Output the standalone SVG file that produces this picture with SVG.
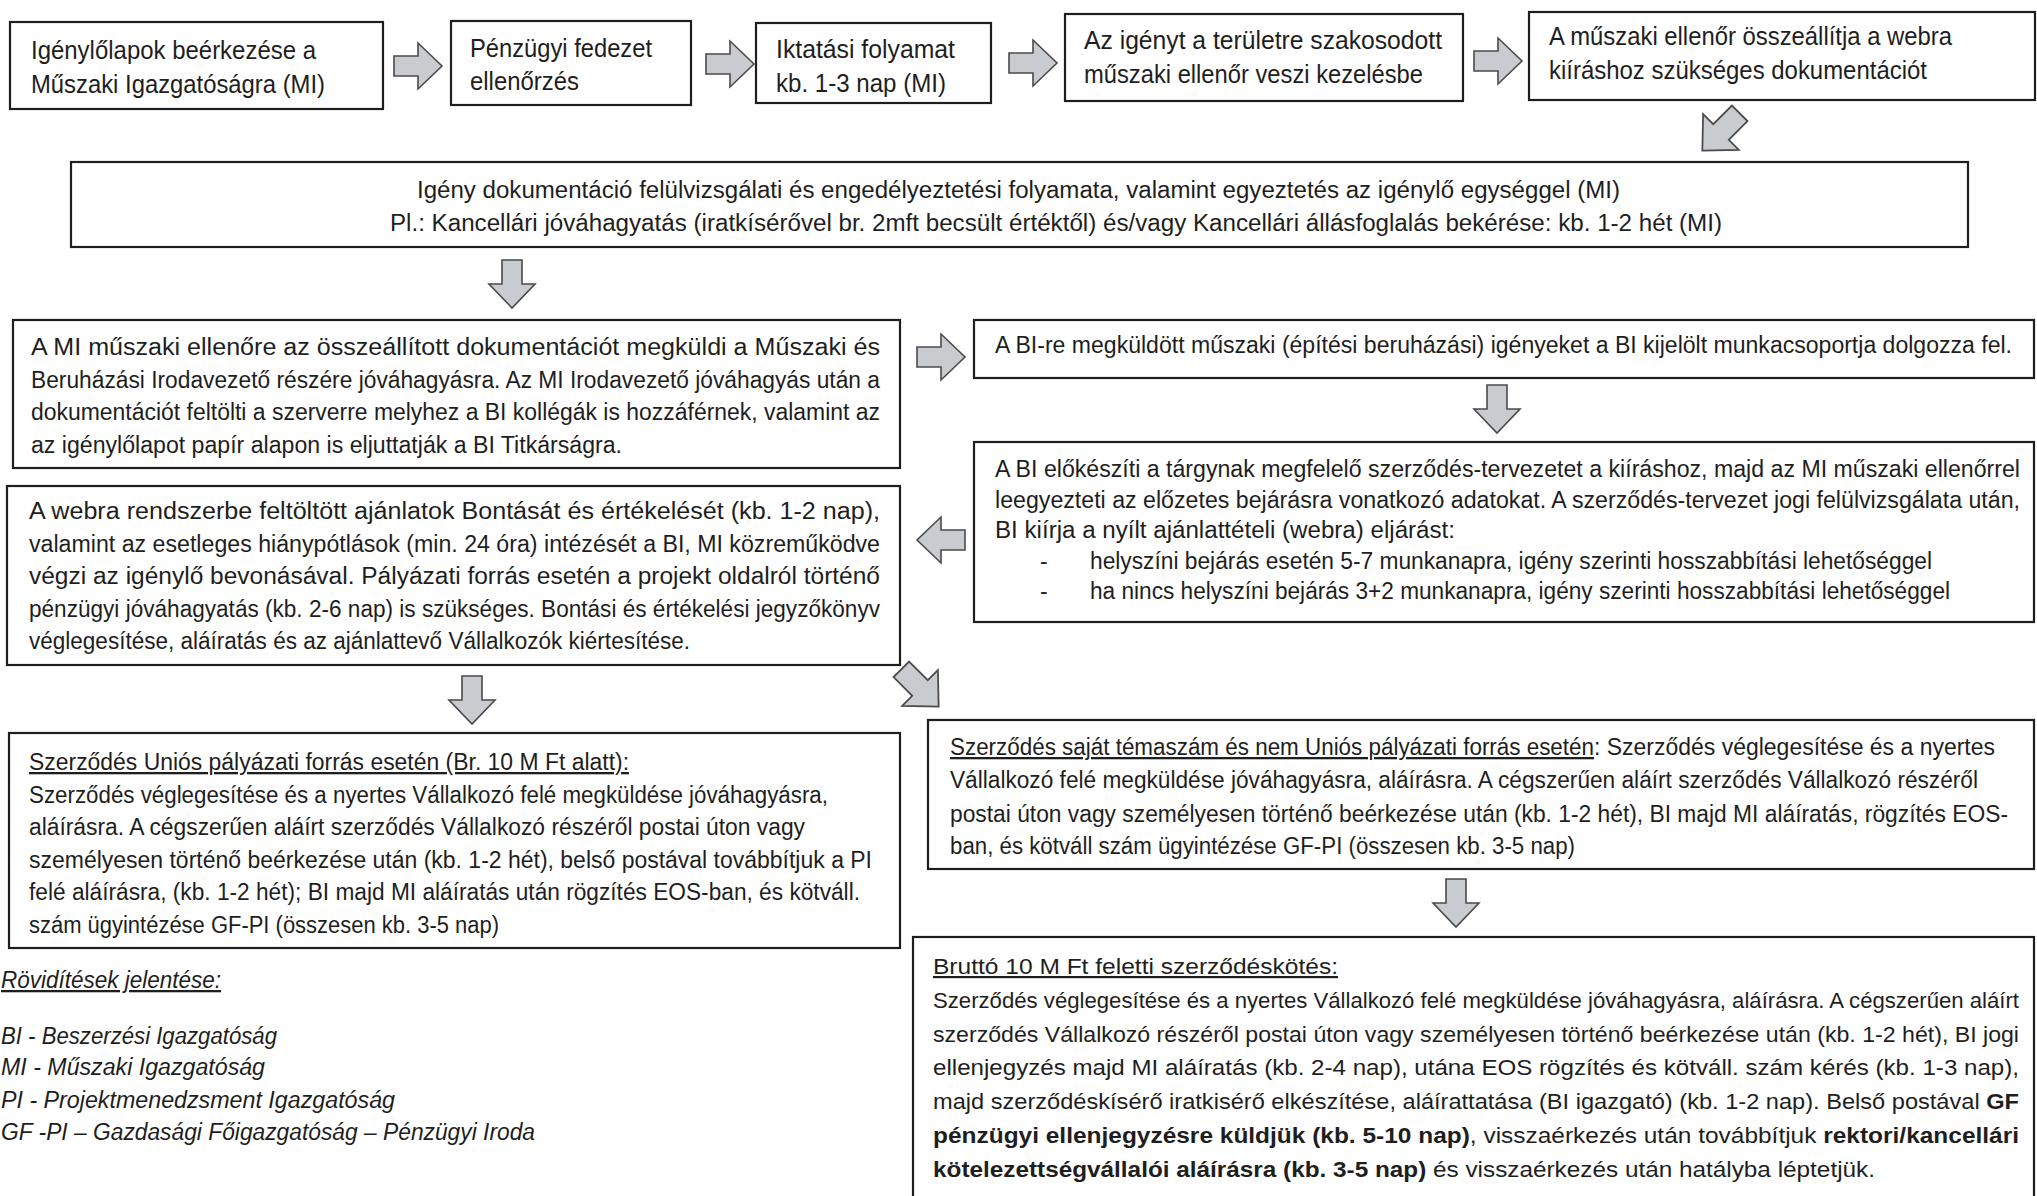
<svg xmlns="http://www.w3.org/2000/svg" width="2037" height="1196" viewBox="0 0 2037 1196">
<style>
.box{fill:#fff;stroke:#1e1e1e;stroke-width:2.2}
.t{font-family:"Liberation Sans Narrow","Liberation Sans",sans-serif;font-size:23px;fill:#1e1e1e}
.t1{font-size:25px}
.s{font-size:22px}
.b{font-weight:bold}
.u{text-decoration:underline}
.i{font-style:italic}
.arrow{fill:#c8ccd1;stroke:#4a4a4a;stroke-width:1.6;stroke-linejoin:miter}
</style>
<defs>
<path id="arr" class="arrow" d="M-24,-10 H0 V-23 L24,0 L0,23 V10 H-24 Z"/>
</defs>
<rect width="2037" height="1196" fill="#fff"/>

<g id="connectors">
<use href="#arr" transform="translate(418,66)"/>
<use href="#arr" transform="translate(730,64)"/>
<use href="#arr" transform="translate(1033,63)"/>
<use href="#arr" transform="translate(1498,61)"/>
<use href="#arr" transform="translate(1721,132) rotate(135) scale(1.1)"/>
<use href="#arr" transform="translate(512,284) rotate(90)"/>
<use href="#arr" transform="translate(941,357)"/>
<use href="#arr" transform="translate(1497,409) rotate(90)"/>
<use href="#arr" transform="translate(941,540) rotate(180)"/>
<use href="#arr" transform="translate(472,700) rotate(90)"/>
<use href="#arr" transform="translate(920,688) rotate(45) scale(1.1)"/>
<use href="#arr" transform="translate(1456,903) rotate(90)"/>
</g>

<g id="n1">
<rect class="box" x="10" y="22" width="373" height="87"/>
<text class="t t1" x="31" y="59" textLength="285" lengthAdjust="spacingAndGlyphs">Igénylőlapok beérkezése a</text>
<text class="t t1" x="31" y="93" textLength="294" lengthAdjust="spacingAndGlyphs">Műszaki Igazgatóságra (MI)</text>
</g>

<g id="n2">
<rect class="box" x="451" y="21" width="240" height="84"/>
<text class="t t1" x="470" y="57" textLength="182" lengthAdjust="spacingAndGlyphs">Pénzügyi fedezet</text>
<text class="t t1" x="470" y="90" textLength="109" lengthAdjust="spacingAndGlyphs">ellenőrzés</text>
</g>

<g id="n3">
<rect class="box" x="756" y="23" width="235" height="80"/>
<text class="t t1" x="776" y="58" textLength="179" lengthAdjust="spacingAndGlyphs">Iktatási folyamat</text>
<text class="t t1" x="776" y="92" textLength="170" lengthAdjust="spacingAndGlyphs">kb. 1-3 nap (MI)</text>
</g>

<g id="n4">
<rect class="box" x="1065" y="14" width="398" height="87"/>
<text class="t t1" x="1084" y="49" textLength="358" lengthAdjust="spacingAndGlyphs">Az igényt a területre szakosodott</text>
<text class="t t1" x="1084" y="83" textLength="339" lengthAdjust="spacingAndGlyphs">műszaki ellenőr veszi kezelésbe</text>
</g>

<g id="n5">
<rect class="box" x="1529" y="12" width="506" height="88"/>
<text class="t t1" x="1549" y="45" textLength="403" lengthAdjust="spacingAndGlyphs">A műszaki ellenőr összeállítja a webra</text>
<text class="t t1" x="1549" y="79" textLength="378" lengthAdjust="spacingAndGlyphs">kiíráshoz szükséges dokumentációt</text>
</g>

<g id="n6">
<rect class="box" x="71" y="162" width="1897" height="85"/>
<text class="t" x="417" y="198" textLength="1203" lengthAdjust="spacingAndGlyphs">Igény dokumentáció felülvizsgálati és engedélyeztetési folyamata, valamint egyeztetés az igénylő egységgel (MI)</text>
<text class="t" x="390" y="231" textLength="1332" lengthAdjust="spacingAndGlyphs">Pl.: Kancellári jóváhagyatás (iratkísérővel br. 2mft becsült értéktől) és/vagy Kancellári állásfoglalás bekérése: kb. 1-2 hét (MI)</text>
</g>

<g id="n7">
<rect class="box" x="13" y="320" width="887" height="148"/>
<text class="t" x="31" y="355" textLength="849" lengthAdjust="spacingAndGlyphs">A MI műszaki ellenőre az összeállított dokumentációt megküldi a Műszaki és</text>
<text class="t" x="31" y="388" textLength="849" lengthAdjust="spacingAndGlyphs">Beruházási Irodavezető részére jóváhagyásra. Az MI Irodavezető jóváhagyás után a</text>
<text class="t" x="31" y="420" textLength="849" lengthAdjust="spacingAndGlyphs">dokumentációt feltölti a szerverre melyhez a BI kollégák is hozzáférnek, valamint az</text>
<text class="t" x="31" y="453" textLength="591" lengthAdjust="spacingAndGlyphs">az igénylőlapot papír alapon is eljuttatják a BI Titkárságra.</text>
</g>

<g id="n8">
<rect class="box" x="974" y="320" width="1060" height="58"/>
<text class="t" x="995" y="353" textLength="1017" lengthAdjust="spacingAndGlyphs">A BI-re megküldött műszaki (építési beruházási) igényeket a BI kijelölt munkacsoportja dolgozza fel.</text>
</g>

<g id="n9">
<rect class="box" x="974" y="442" width="1060" height="180"/>
<text class="t" x="995" y="477" textLength="1025" lengthAdjust="spacingAndGlyphs">A BI előkészíti a tárgynak megfelelő szerződés-tervezetet a kiíráshoz, majd az MI műszaki ellenőrrel</text>
<text class="t" x="995" y="508" textLength="1025" lengthAdjust="spacingAndGlyphs">leegyezteti az előzetes bejárásra vonatkozó adatokat. A szerződés-tervezet jogi felülvizsgálata után,</text>
<text class="t" x="995" y="538" textLength="460" lengthAdjust="spacingAndGlyphs">BI kiírja a nyílt ajánlattételi (webra) eljárást:</text>
<text class="t" x="1040" y="569">-</text>
<text class="t" x="1090" y="569" textLength="842" lengthAdjust="spacingAndGlyphs">helyszíni bejárás esetén 5-7 munkanapra, igény szerinti hosszabbítási lehetőséggel</text>
<text class="t" x="1040" y="599">-</text>
<text class="t" x="1090" y="599" textLength="860" lengthAdjust="spacingAndGlyphs">ha nincs helyszíni bejárás 3+2 munkanapra, igény szerinti hosszabbítási lehetőséggel</text>
</g>

<g id="n10">
<rect class="box" x="7" y="486" width="893" height="179"/>
<text class="t" x="29" y="519" textLength="851" lengthAdjust="spacingAndGlyphs">A webra rendszerbe feltöltött ajánlatok Bontását és értékelését (kb. 1-2 nap),</text>
<text class="t" x="29" y="552" textLength="851" lengthAdjust="spacingAndGlyphs">valamint az esetleges hiánypótlások (min. 24 óra) intézését a BI, MI közreműködve</text>
<text class="t" x="29" y="584" textLength="851" lengthAdjust="spacingAndGlyphs">végzi az igénylő bevonásával. Pályázati forrás esetén a projekt oldalról történő</text>
<text class="t" x="29" y="617" textLength="851" lengthAdjust="spacingAndGlyphs">pénzügyi jóváhagyatás (kb. 2-6 nap) is szükséges. Bontási és értékelési jegyzőkönyv</text>
<text class="t" x="29" y="649" textLength="661" lengthAdjust="spacingAndGlyphs">véglegesítése, aláíratás és az ajánlattevő Vállalkozók kiértesítése.</text>
</g>

<g id="n11">
<rect class="box" x="9" y="733" width="891" height="215"/>
<text class="t u" x="29" y="770" textLength="600" lengthAdjust="spacingAndGlyphs">Szerződés Uniós pályázati forrás esetén (Br. 10 M Ft alatt):</text>
<text class="t" x="29" y="803" textLength="799" lengthAdjust="spacingAndGlyphs">Szerződés véglegesítése és a nyertes Vállalkozó felé megküldése jóváhagyásra,</text>
<text class="t" x="29" y="835" textLength="776" lengthAdjust="spacingAndGlyphs">aláírásra. A cégszerűen aláírt szerződés Vállalkozó részéről postai úton vagy</text>
<text class="t" x="29" y="868" textLength="843" lengthAdjust="spacingAndGlyphs">személyesen történő beérkezése után (kb. 1-2 hét), belső postával továbbítjuk a PI</text>
<text class="t" x="29" y="900" textLength="831" lengthAdjust="spacingAndGlyphs">felé aláírásra, (kb. 1-2 hét); BI majd MI aláíratás után rögzítés EOS-ban, és kötváll.</text>
<text class="t" x="29" y="933" textLength="470" lengthAdjust="spacingAndGlyphs">szám ügyintézése GF-PI (összesen kb. 3-5 nap)</text>
</g>

<g id="n12">
<rect class="box" x="928" y="720" width="1106" height="149"/>
<text class="t u" x="950" y="755" textLength="644" lengthAdjust="spacingAndGlyphs">Szerződés saját témaszám és nem Uniós pályázati forrás esetén</text>
<text class="t" x="1594" y="755" textLength="401" lengthAdjust="spacingAndGlyphs">: Szerződés véglegesítése és a nyertes</text>
<text class="t" x="950" y="788" textLength="1028" lengthAdjust="spacingAndGlyphs">Vállalkozó felé megküldése jóváhagyásra, aláírásra. A cégszerűen aláírt szerződés Vállalkozó részéről</text>
<text class="t" x="950" y="822" textLength="1058" lengthAdjust="spacingAndGlyphs">postai úton vagy személyesen történő beérkezése után (kb. 1-2 hét), BI majd MI aláíratás, rögzítés EOS-</text>
<text class="t" x="950" y="854" textLength="625" lengthAdjust="spacingAndGlyphs">ban, és kötváll szám ügyintézése GF-PI (összesen kb. 3-5 nap)</text>
</g>

<g id="n13">
<rect class="box" x="913" y="937" width="1121" height="290"/>
<text class="t s u" x="933" y="974" textLength="405" lengthAdjust="spacingAndGlyphs">Bruttó 10 M Ft feletti szerződéskötés:</text>
<text class="t s" x="933" y="1008" textLength="1086" lengthAdjust="spacingAndGlyphs">Szerződés véglegesítése és a nyertes Vállalkozó felé megküldése jóváhagyásra, aláírásra. A cégszerűen aláírt</text>
<text class="t s" x="933" y="1042" textLength="1086" lengthAdjust="spacingAndGlyphs">szerződés Vállalkozó részéről postai úton vagy személyesen történő beérkezése után (kb. 1-2 hét), BI jogi</text>
<text class="t s" x="933" y="1075" textLength="1086" lengthAdjust="spacingAndGlyphs">ellenjegyzés majd MI aláíratás (kb. 2-4 nap), utána EOS rögzítés és kötváll. szám kérés (kb. 1-3 nap),</text>
<text class="t s" x="933" y="1109" textLength="1086" lengthAdjust="spacingAndGlyphs">majd szerződéskísérő iratkisérő elkészítése, aláírattatása (BI igazgató) (kb. 1-2 nap). Belső postával <tspan class="b">GF</tspan></text>
<text class="t s" x="933" y="1143" textLength="1086" lengthAdjust="spacingAndGlyphs"><tspan class="b">pénzügyi ellenjegyzésre küldjük (kb. 5-10 nap)</tspan>, visszaérkezés után továbbítjuk <tspan class="b">rektori/kancellári</tspan></text>
<text class="t s" x="933" y="1177" textLength="942" lengthAdjust="spacingAndGlyphs"><tspan class="b">kötelezettségvállalói aláírásra (kb. 3-5 nap)</tspan> és visszaérkezés után hatályba léptetjük.</text>
</g>

<g id="legend">
<text class="t i u" x="1" y="988" textLength="220" lengthAdjust="spacingAndGlyphs">Rövidítések jelentése:</text>
<text class="t i" x="1" y="1044" textLength="276" lengthAdjust="spacingAndGlyphs">BI - Beszerzési Igazgatóság</text>
<text class="t i" x="1" y="1075" textLength="264" lengthAdjust="spacingAndGlyphs">MI - Műszaki Igazgatóság</text>
<text class="t i" x="1" y="1108" textLength="394" lengthAdjust="spacingAndGlyphs">PI - Projektmenedzsment Igazgatóság</text>
<text class="t i" x="1" y="1140" textLength="534" lengthAdjust="spacingAndGlyphs">GF -PI – Gazdasági Főigazgatóság – Pénzügyi Iroda</text>
</g>
</svg>
